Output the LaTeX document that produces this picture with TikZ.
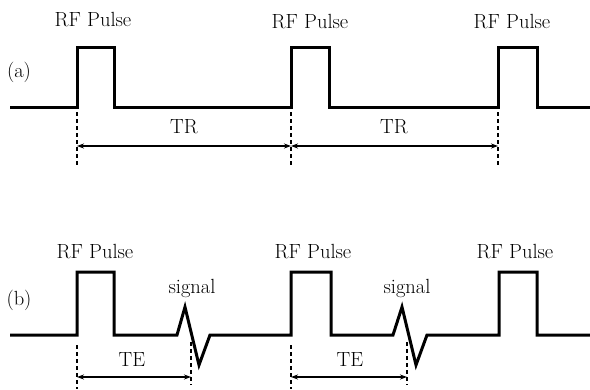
\documentclass[tikz,border=0pt]{standalone}
\usetikzlibrary{arrows.meta}
\begin{document}
\begin{tikzpicture}[x=1pt,y=-1pt,
  wave/.style={line width=3pt,line join=miter},
  guide/.style={line width=1.2pt,dash pattern=on 4pt off 3pt},
  span/.style={{Stealth[length=7pt,width=5pt]}-{Stealth[length=7pt,width=5pt]},line width=1.1pt},
  lbl/.style={font=\fontsize{20.5}{24}\selectfont,inner sep=0pt}]
\useasboundingbox (0,0) rectangle (590,389);
% (a)
\draw[wave] (10,107) -- (77,107) -- (77,47) -- (114,47) -- (114,107) -- (291,107) -- (291,47) -- (329,47) -- (329,107)
  -- (498,107) -- (498,47) -- (537,47) -- (537,107) -- (590,107);
\node[lbl] (la) at (19,72) {(a)};
\node[lbl] (p1) at (93,20) {RF Pulse};
\node[lbl] (p2) at (310,22) {RF Pulse};
\node[lbl] (p3) at (512,22) {RF Pulse};
\coordinate (a1t) at (77,112); \coordinate (a1b) at (77,165);
\coordinate (a2t) at (291,112); \coordinate (a2b) at (291,165);
\coordinate (a3t) at (498,112); \coordinate (a3b) at (498,165);
\draw[guide] (a1t) -- (a1b);
\draw[guide] (a2t) -- (a2b);
\draw[guide] (a3t) -- (a3b);
\coordinate (r1) at (77,146); \coordinate (r2) at (291,146); \coordinate (r3) at (498,146);
\draw[span] (r1) -- (r2);
\draw[span] (r2) -- (r3);
\node[lbl] (tr1) at (184,127) {TR};
\node[lbl] (tr2) at (394,127) {TR};
% (b)
\draw[wave] (10,335) -- (77,335) -- (77,272) -- (114,272) -- (114,335) -- (177,335) -- (185,307) -- (199,365) -- (210,335)
  -- (291,335) -- (291,272) -- (331,272) -- (331,335) -- (393,335) -- (402,307) -- (416,365) -- (427,335)
  -- (499,335) -- (499,272) -- (537,272) -- (537,335) -- (590,335);
\node[lbl] (lb) at (19,300) {(b)};
\node[lbl] (q1) at (95,252) {RF Pulse};
\node[lbl] (q2) at (313,252) {RF Pulse};
\node[lbl] (q3) at (515,252) {RF Pulse};
\node[lbl] (s1) at (192,288) {signal};
\node[lbl] (s2) at (407,288) {signal};
\coordinate (b1t) at (77,345); \coordinate (b1b) at (77,389);
\coordinate (b2t) at (191,342); \coordinate (b2b) at (191,385);
\coordinate (b3t) at (291,345); \coordinate (b3b) at (291,389);
\coordinate (b4t) at (407,342); \coordinate (b4b) at (407,385);
\draw[guide] (b1t) -- (b1b);
\draw[guide] (b2t) -- (b2b);
\draw[guide] (b3t) -- (b3b);
\draw[guide] (b4t) -- (b4b);
\coordinate (e1) at (77,377); \coordinate (e2) at (191,377);
\coordinate (e3) at (291,377); \coordinate (e4) at (407,377);
\draw[span] (e1) -- (e2);
\draw[span] (e3) -- (e4);
\node[lbl] (te1) at (132,360) {TE};
\node[lbl] (te2) at (350,360) {TE};
\end{tikzpicture}
\end{document}
